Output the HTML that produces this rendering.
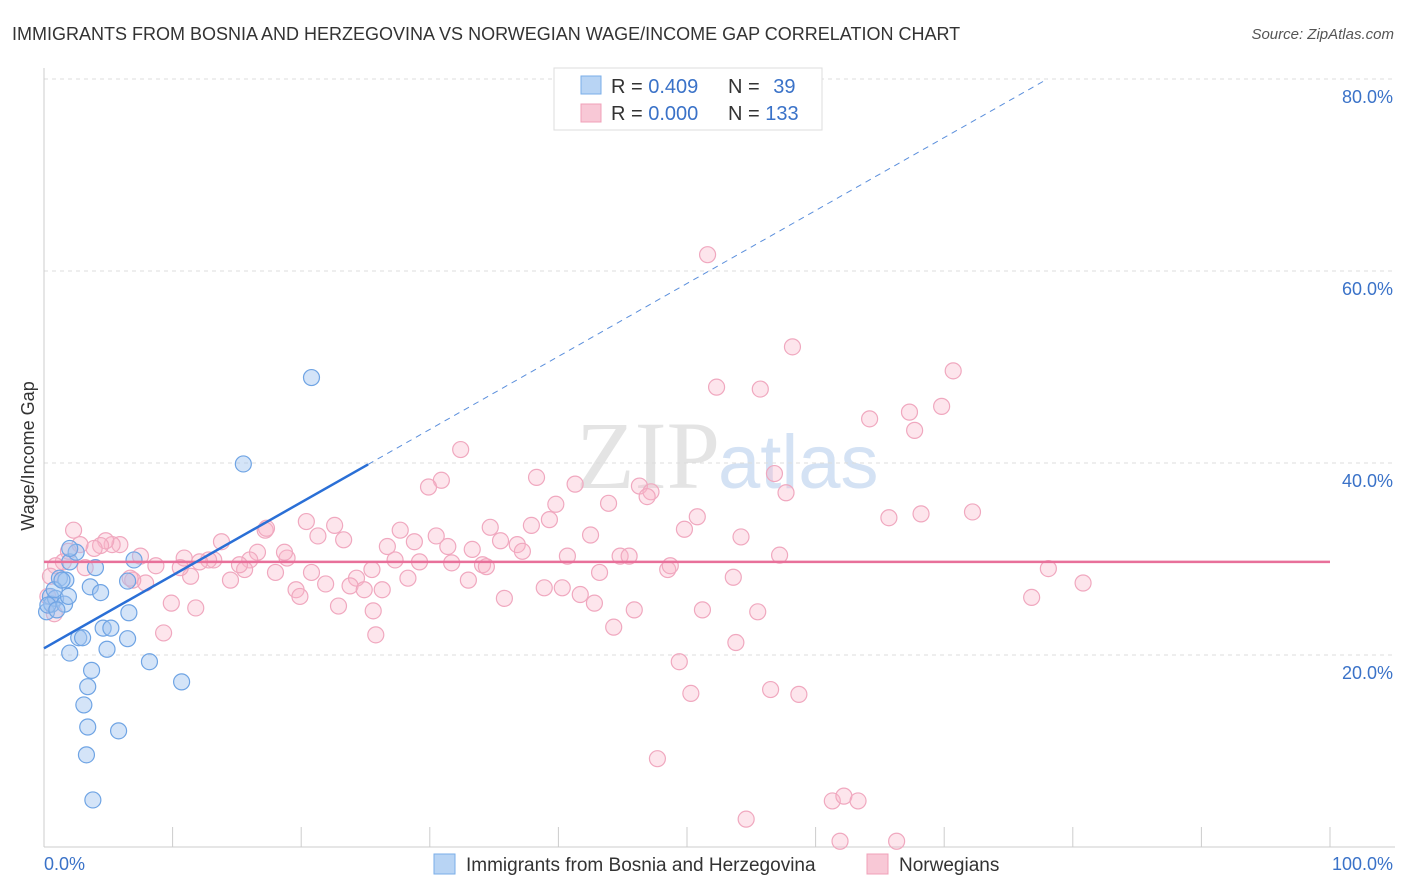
<!DOCTYPE html>
<html><head><meta charset="utf-8">
<style>
body{margin:0;background:#fff;font-family:"Liberation Sans",sans-serif;}
#wrap{position:relative;width:1406px;height:892px;overflow:hidden;}
</style></head>
<body>
<div id="wrap">
<svg id="chart" width="1406" height="892">
<text x="12" y="40" font-size="18" fill="#333">IMMIGRANTS FROM BOSNIA AND HERZEGOVINA VS NORWEGIAN WAGE/INCOME GAP CORRELATION CHART</text>
<text x="1394" y="39" font-size="15" fill="#555" text-anchor="end" font-style="italic">Source: ZipAtlas.com</text>
<text x="720" y="488" font-size="96" fill="#e4e4e4" text-anchor="end" font-family="Liberation Serif,serif">ZIP</text>
<text x="718" y="488" font-size="76" fill="#d4e2f4">atlas</text>
<g id="grid"></g>
<g id="axes"></g>
<g id="marks"></g>
<text x="34" y="456" font-size="18" fill="#333" text-anchor="middle" transform="rotate(-90 34 456)">Wage/Income Gap</text>
<g>
<rect x="554" y="68" width="268" height="62" fill="#fff" stroke="#ddd"/>
<rect x="581" y="76" width="20" height="18" fill="#b8d4f4" stroke="#7aaee8"/>
<text x="611" y="93" font-size="20" fill="#333">R = <tspan fill="#3a72c8">0.409</tspan></text>
<text x="728" y="93" font-size="20" fill="#333">N = <tspan fill="#3a72c8" dx="8">39</tspan></text>
<rect x="581" y="104" width="20" height="18" fill="#f8c8d6" stroke="#f0a0b8"/>
<text x="611" y="120" font-size="20" fill="#333">R = <tspan fill="#3a72c8">0.000</tspan></text>
<text x="728" y="120" font-size="20" fill="#333">N = <tspan fill="#3a72c8">133</tspan></text>
</g>
<g>
<rect x="434" y="854" width="21" height="20" fill="#b8d4f4" stroke="#7aaee8"/>
<text x="466" y="871" font-size="19" fill="#333">Immigrants from Bosnia and Herzegovina</text>
<rect x="867" y="854" width="21" height="20" fill="#f8c8d6" stroke="#f0a0b8"/>
<text x="899" y="871" font-size="19" fill="#333">Norwegians</text>
</g>
</svg>
</div>
<script>
const blueX=[20.8,15.5,0.2,0.5,0.6,0.9,1.2,1.7,1.6,1.9,2.0,2.5,2.7,2.0,3.0,3.6,4.0,4.4,4.6,4.9,5.2,6.6,6.5,6.5,7.0,8.2,10.7,3.7,3.4,3.1,3.4,5.8,3.3,3.8,0.8,0.3,1.0,1.4,2.0];
const blueY=[48.9,39.9,24.5,26.1,25.3,25.9,28.0,27.8,25.3,26.1,29.7,30.7,21.8,20.2,21.8,27.1,29.1,26.5,22.8,20.6,22.8,24.4,21.7,27.7,29.9,19.3,17.2,18.4,16.7,14.8,12.5,12.1,9.6,4.9,26.8,25.2,24.7,27.8,31.1];
const pinkX=[51.6,58.2,70.7,52.3,55.7,69.8,64.2,67.3,67.7,32.4,30.9,29.9,38.3,41.3,46.3,47.2,46.9,39.8,43.9,56.8,57.7,72.2,68.2,65.7,50.8,49.8,54.2,39.3,37.9,34.7,30.5,27.7,26.7,28.8,31.4,33.3,35.5,36.8,37.2,40.7,42.5,44.8,45.5,48.5,48.7,57.2,53.6,43.2,38.9,40.3,41.7,42.8,35.8,33.0,34.1,34.4,31.7,29.2,28.3,27.3,26.3,25.5,24.3,23.8,24.9,22.9,21.9,20.8,19.6,19.9,18.9,18.7,18.0,17.2,16.6,16.0,15.6,15.2,14.5,13.8,13.2,12.8,12.1,11.4,10.9,10.6,9.9,9.3,8.7,7.5,7.9,6.9,6.7,5.9,5.3,4.8,4.4,3.9,3.2,2.8,2.3,1.9,1.5,0.9,0.5,0.3,0.8,11.8,17.3,20.4,21.3,22.6,23.3,25.8,25.6,44.3,45.9,49.4,50.3,51.2,53.8,55.5,56.5,58.7,47.7,54.6,61.3,62.2,63.3,61.9,66.3,76.8,78.1,80.8];
const pinkY=[61.7,52.1,49.6,47.9,47.7,45.9,44.6,45.3,43.4,41.4,38.2,37.5,38.5,37.8,37.6,37.0,36.5,35.7,35.8,38.9,36.9,34.9,34.7,34.3,34.4,33.1,32.3,34.1,33.5,33.3,32.4,33.0,31.3,31.8,31.3,31.0,31.9,31.5,30.8,30.3,32.5,30.3,30.3,28.9,29.3,30.4,28.1,28.6,27.0,27.0,26.3,25.4,25.9,27.8,29.4,29.2,29.6,29.7,28.0,29.9,26.8,28.9,28.0,27.2,26.8,25.1,27.4,28.6,26.8,26.1,30.1,30.7,28.6,33.0,30.7,29.9,28.9,29.4,27.8,31.8,29.9,29.9,29.7,28.2,30.1,29.1,25.4,22.3,29.3,30.3,27.5,27.8,28.0,31.5,31.5,31.9,31.4,31.1,29.1,31.5,33.0,30.8,29.7,29.3,28.2,26.1,24.3,24.9,33.2,33.9,32.4,33.5,32.0,22.1,24.6,22.9,24.7,19.3,16.0,24.7,21.3,24.5,16.4,15.9,9.2,2.9,4.8,5.3,4.8,0.6,0.6,26.0,29.0,27.5];
const yTicks=[20,40,60,80];
const yTickLabels=["20.0%","40.0%","60.0%","80.0%"];
const xTicks=[0,10,20,30,40,50,60,70,80,90,100];
const xEndLabels=["0.0%","100.0%"];
const blueTrend=[20.7,0.76,25.2]; // intercept, slope, solid end x
const pinkTrend=[29.7];

const NS="http://www.w3.org/2000/svg";
const X0=44,X1=1330,Y0=847,Y80=79;
const sx=v=>X0+(X1-X0)*v/100;
const sy=v=>Y0-(Y0-Y80)*v/80;
function mk(tag,attrs,parent){const e=document.createElementNS(NS,tag);for(const k in attrs)e.setAttribute(k,attrs[k]);parent.appendChild(e);return e;}
const grid=document.getElementById('grid'),axes=document.getElementById('axes'),marks=document.getElementById('marks');
yTicks.forEach((t,i)=>{
 const l=mk('line',{x1:X0,x2:1395,y1:sy(t),y2:sy(t),stroke:'#ddd','stroke-dasharray':'4,4'},grid);
 
 
 const tx=mk('text',{x:1393,y:sy(t)+24,'font-size':18,fill:'#3a72c8','text-anchor':'end'},grid);
 tx.textContent=yTickLabels[i];
 
 
});
const ya=mk('line',{x1:X0,x2:X0,y1:68,y2:Y0,stroke:'#ccc'},axes);


const xa=mk('line',{x1:X0,x2:1395,y1:Y0,y2:Y0,stroke:'#ccc'},axes);


xTicks.forEach(t=>{
 const l=mk('line',{x1:sx(t),x2:sx(t),y1:Y0-20,y2:Y0,stroke:'#ccc'},axes);
 
 
});
[[0,'start',44],[100,'end',1393]].forEach((a,i)=>{
 const tx=mk('text',{x:a[2],y:870,'font-size':18,fill:'#3a72c8','text-anchor':a[1]},axes);
 tx.textContent=xEndLabels[i];
 
 
});
pinkX.forEach((v,i)=>{
 const c=mk('circle',{cx:sx(v),cy:sy(pinkY[i]),r:8,fill:'rgba(248,180,200,0.35)',stroke:'#f0a8bf','stroke-width':1.2},marks);
 
 
});
blueX.forEach((v,i)=>{
 const c=mk('circle',{cx:sx(v),cy:sy(blueY[i]),r:8,fill:'rgba(160,196,240,0.45)',stroke:'#6fa4e4','stroke-width':1.2},marks);
 
 
});
const pl=mk('line',{x1:sx(0),x2:sx(100),y1:sy(pinkTrend[0]),y2:sy(pinkTrend[0]),stroke:'#e8709a','stroke-width':2.5},marks);


const [bi,bs,be]=blueTrend;
const bxEnd=(80-bi)/bs;
const bd=mk('line',{x1:sx(be),x2:sx(bxEnd),y1:sy(bi+bs*be),y2:sy(80),stroke:'#5b8fdc','stroke-width':1,'stroke-dasharray':'6,5'},marks);


const bl=mk('line',{x1:sx(0),x2:sx(be),y1:sy(bi),y2:sy(bi+bs*be),stroke:'#2a6fd6','stroke-width':2.5},marks);


</script>
</body></html>
